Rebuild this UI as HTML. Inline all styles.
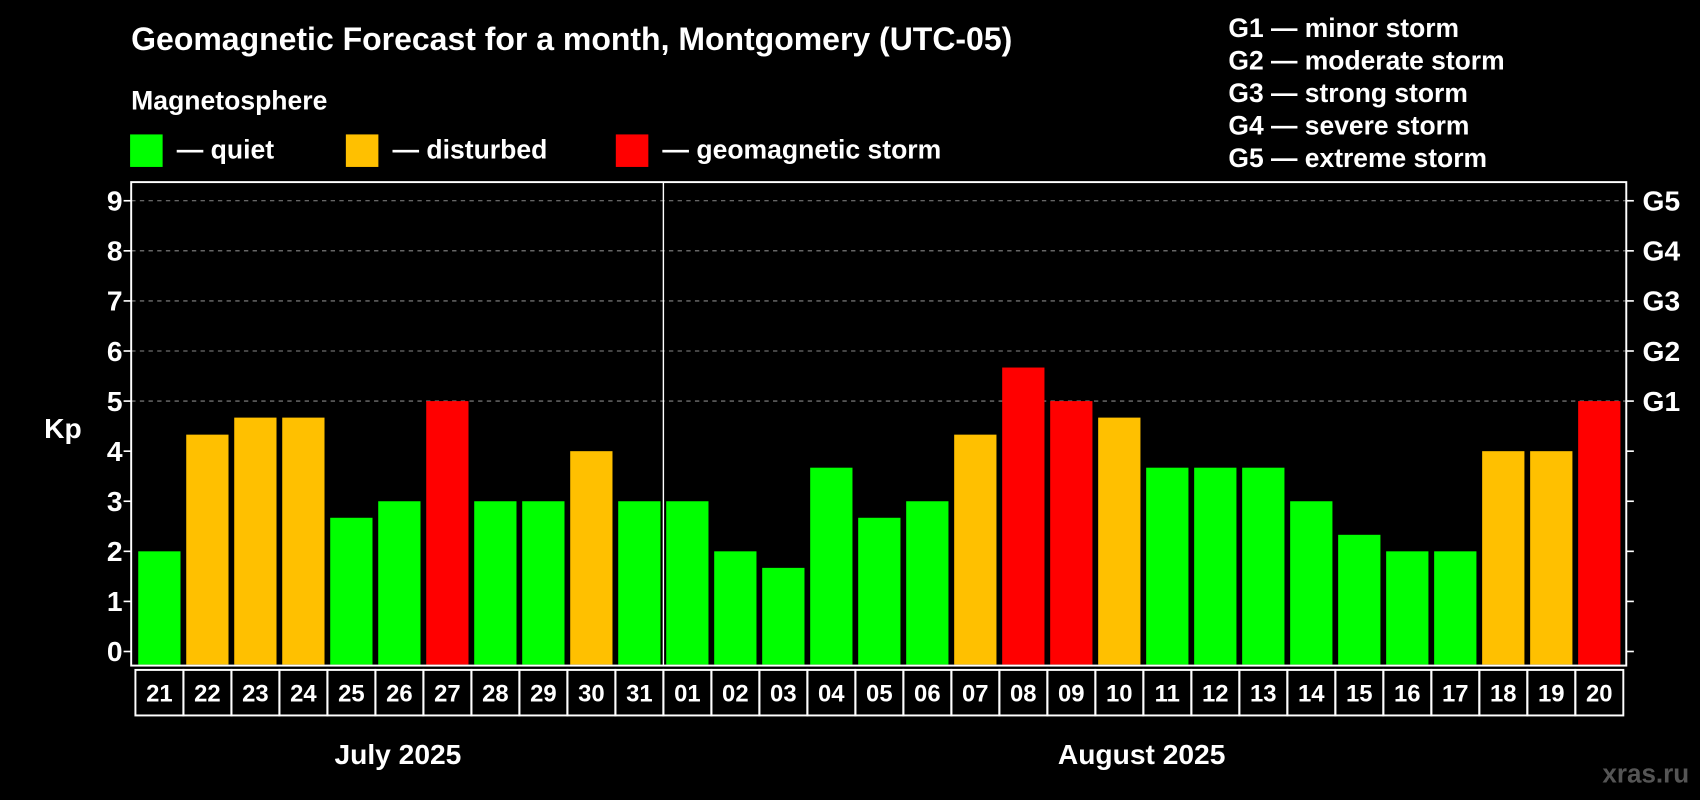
<!DOCTYPE html>
<html><head><meta charset="utf-8"><style>
html,body{margin:0;padding:0;background:#000;}
svg{display:block;font-family:"Liberation Sans",Arial,sans-serif;font-weight:bold;}
</style></head><body>
<svg id="chart" width="1700" height="800" viewBox="0 0 1568 738" preserveAspectRatio="none">
<text x="121" y="46" fill="#fff" font-size="29.5">Geomagnetic Forecast for a month, Montgomery (UTC-05)</text>
<text x="121" y="101" fill="#fff" font-size="24.5">Magnetosphere</text>
<g><rect x="120" y="124" width="30" height="30" fill="#00ff00"/><text x="163" y="146" fill="#fff" font-size="24.5">— quiet</text></g>
<g><rect x="319" y="124" width="30" height="30" fill="#ffc000"/><text x="362" y="146" fill="#fff" font-size="24.5">— disturbed</text></g>
<g><rect x="568" y="124" width="30" height="30" fill="#ff0000"/><text x="611" y="146" fill="#fff" font-size="24.5">— geomagnetic storm</text></g>
<g fill="#fff" font-size="24.4">
<text x="1133" y="34">G1 — minor storm</text>
<text x="1133" y="64">G2 — moderate storm</text>
<text x="1133" y="94">G3 — strong storm</text>
<text x="1133" y="124">G4 — severe storm</text>
<text x="1133" y="154">G5 — extreme storm</text>
</g>
<text x="58" y="404" fill="#fff" font-size="26" text-anchor="middle">Kp</text>
<g id="grid"></g><g id="bars"></g><g id="axes"></g>
<text x="367" y="705" fill="#fff" font-size="26" text-anchor="middle">July 2025</text>
<text x="1053" y="705" fill="#fff" font-size="26" text-anchor="middle">August 2025</text>
<text x="1558" y="722" fill="#555" font-size="24" text-anchor="end">xras.ru</text>
</svg>
<script>
const days = ["21","22","23","24","25","26","27","28","29","30","31","01","02","03","04","05","06","07","08","09","10","11","12","13","14","15","16","17","18","19","20"];
const kpValues = [2,4.33,4.67,4.67,2.67,3,5,3,3,4,3,3,2,1.67,3.67,2.67,3,4.33,5.67,5,4.67,3.67,3.67,3.67,3,2.33,2,2,4,4,5];
const yTicks = [0,1,2,3,4,5,6,7,8,9];
const gLabels = ["G1","G2","G3","G4","G5"];
const gLevels = [5,6,7,8,9];
const NS="http://www.w3.org/2000/svg";
const L=121,R=1500,T=168,B=614,y0=601,unit=46.2,pitch=44.27,bw=39,bx0=127.5;
const y=v=>y0-v*unit, x=i=>bx0+i*pitch;
function mk(t,a,p){const e=document.createElementNS(NS,t);for(const k in a)e.setAttribute(k,a[k]);p.appendChild(e);return e;}
const grid=document.getElementById('grid'),bars=document.getElementById('bars'),axes=document.getElementById('axes');
yTicks.forEach(v=>{
 if(v>=5){const g=mk('line',{x1:L,x2:R,y1:y(v),y2:y(v),stroke:'#888','stroke-dasharray':'4 4','stroke-width':1},grid);
 
 }
 const t=mk('line',{x1:L-7,x2:L,y1:y(v),y2:y(v),stroke:'#fff','stroke-width':1.5},axes);
 
 
 const t2=mk('line',{x1:R,x2:R+7,y1:y(v),y2:y(v),stroke:'#fff','stroke-width':1.5},axes);
 
 
 const l=mk('text',{x:L-8,y:y(v)+9,fill:'#fff','font-size':26,'text-anchor':'end'},axes);l.textContent=v;
 
 
});
gLabels.forEach((g,i)=>{const l=mk('text',{x:R+15,y:y(gLevels[i])+9,fill:'#fff','font-size':26},axes);l.textContent=g;
 
 });
kpValues.forEach((v,i)=>{
 const c=v>=5?'#ff0000':(v>=4?'#ffc000':'#00ff00');
 const r=mk('rect',{x:x(i),y:y(v),width:bw,height:B-1-y(v),fill:c},bars);
 
 
 const bx=mk('rect',{x:x(i)-2.6,y:618,width:pitch,height:42,fill:'none',stroke:'#fff','stroke-width':1.8},axes);
 
 
 const tl=mk('text',{x:x(i)+bw/2,y:647,fill:'#fff','font-size':22,'text-anchor':'middle'},axes);tl.textContent=days[i];
 
 
});
const fr=mk('rect',{x:L,y:T,width:R-L,height:B-T,fill:'none',stroke:'#fff','stroke-width':1.8},axes);


const sx=x(11)-2.6;
const sep=mk('line',{x1:sx,x2:sx,y1:T,y2:B,stroke:'#fff','stroke-width':1.3},axes);


</script>
</body></html>
